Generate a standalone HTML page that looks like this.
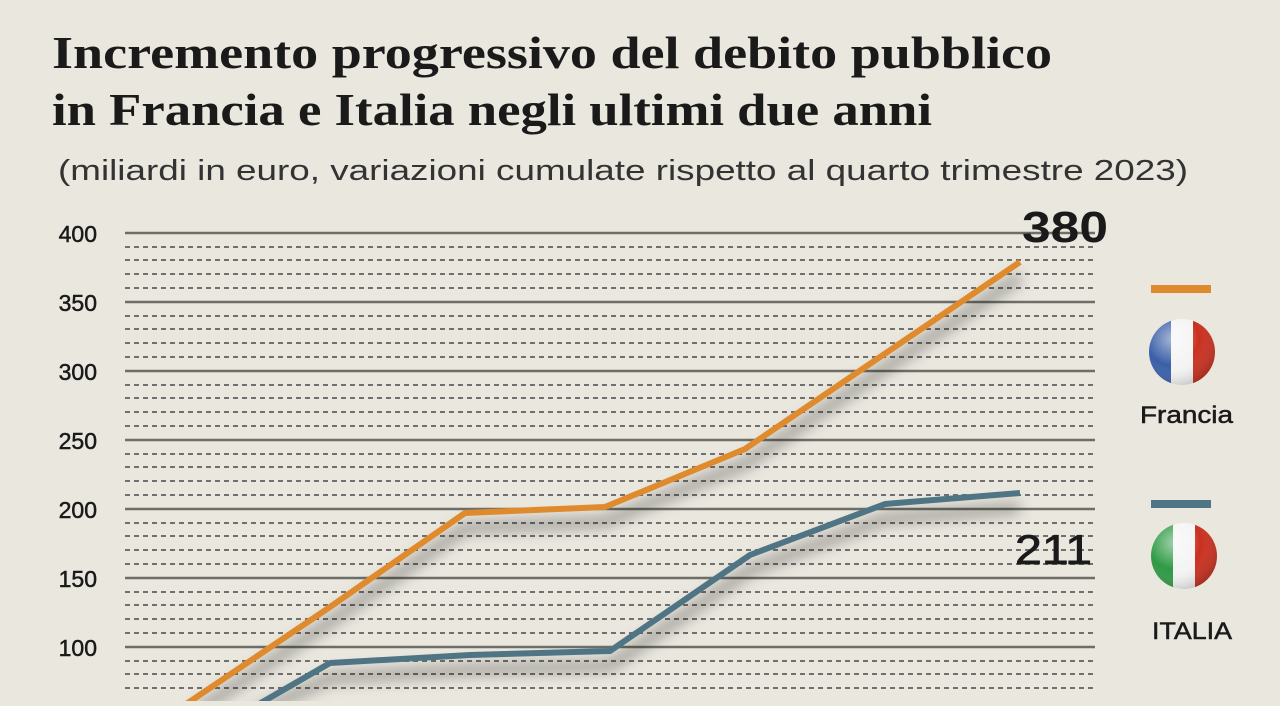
<!DOCTYPE html>
<html><head><meta charset="utf-8"><style>
body{margin:0;width:1280px;height:701px;overflow:hidden;background:#e9e7de;}
</style></head><body>
<svg width="1280" height="701" xmlns="http://www.w3.org/2000/svg">
<defs>
<filter id="sh" x="-10%" y="-10%" width="120%" height="140%"><feGaussianBlur stdDeviation="7"/></filter>
<radialGradient id="gl" cx="0.35" cy="0.3" r="0.8"><stop offset="0" stop-color="#fff" stop-opacity="0.55"/><stop offset="0.5" stop-color="#fff" stop-opacity="0"/><stop offset="1" stop-color="#000" stop-opacity="0.25"/></radialGradient>
<clipPath id="c1"><circle cx="1182" cy="352" r="33"/></clipPath>
<clipPath id="c2"><circle cx="1184" cy="556" r="33"/></clipPath>
</defs>
<rect width="1280" height="701" fill="#e9e7de"/>
<text x="52" y="68" textLength="1000" lengthAdjust="spacingAndGlyphs" font-family="Liberation Serif, serif" font-weight="bold" font-size="46" fill="#1a1a1a">Incremento progressivo del debito pubblico</text>
<text x="52" y="125" textLength="880" lengthAdjust="spacingAndGlyphs" font-family="Liberation Serif, serif" font-weight="bold" font-size="46" fill="#1a1a1a">in Francia e Italia negli ultimi due anni</text>
<text x="58" y="180" textLength="1130" lengthAdjust="spacingAndGlyphs" font-family="Liberation Sans, sans-serif" font-size="29" fill="#333">(miliardi in euro, variazioni  cumulate rispetto al quarto trimestre 2023)</text>
<g font-family="Liberation Sans, sans-serif" font-size="23" fill="#1a1a1a" text-anchor="end" stroke="#1a1a1a" stroke-width="0.5">
<text x="97" y="242">400</text><text x="97" y="311">350</text><text x="97" y="380">300</text><text x="97" y="449">250</text><text x="97" y="518">200</text><text x="97" y="587">150</text><text x="97" y="656">100</text>
</g>
<g id="grid">
<g stroke="#6e6e68" stroke-width="2.5">
<line x1="125" y1="233" x2="1095" y2="233"/><line x1="125" y1="302" x2="1095" y2="302"/><line x1="125" y1="371" x2="1095" y2="371"/><line x1="125" y1="440" x2="1095" y2="440"/><line x1="125" y1="509" x2="1095" y2="509"/><line x1="125" y1="578" x2="1095" y2="578"/><line x1="125" y1="647" x2="1095" y2="647"/>
</g>
<g stroke="#707070" stroke-width="2" stroke-dasharray="5,4">
<line x1="125" y1="247" x2="1095" y2="247"/><line x1="125" y1="260" x2="1095" y2="260"/><line x1="125" y1="274" x2="1095" y2="274"/><line x1="125" y1="288" x2="1095" y2="288"/>
<line x1="125" y1="316" x2="1095" y2="316"/><line x1="125" y1="329" x2="1095" y2="329"/><line x1="125" y1="343" x2="1095" y2="343"/><line x1="125" y1="357" x2="1095" y2="357"/>
<line x1="125" y1="385" x2="1095" y2="385"/><line x1="125" y1="398" x2="1095" y2="398"/><line x1="125" y1="412" x2="1095" y2="412"/><line x1="125" y1="426" x2="1095" y2="426"/>
<line x1="125" y1="454" x2="1095" y2="454"/><line x1="125" y1="467" x2="1095" y2="467"/><line x1="125" y1="481" x2="1095" y2="481"/><line x1="125" y1="495" x2="1095" y2="495"/>
<line x1="125" y1="523" x2="1095" y2="523"/><line x1="125" y1="536" x2="1095" y2="536"/><line x1="125" y1="550" x2="1095" y2="550"/><line x1="125" y1="564" x2="1095" y2="564"/>
<line x1="125" y1="592" x2="1095" y2="592"/><line x1="125" y1="605" x2="1095" y2="605"/><line x1="125" y1="619" x2="1095" y2="619"/><line x1="125" y1="633" x2="1095" y2="633"/>
<line x1="125" y1="661" x2="1095" y2="661"/><line x1="125" y1="674" x2="1095" y2="674"/><line x1="125" y1="688" x2="1095" y2="688"/>
</g>
</g>
<g filter="url(#sh)" fill="none" stroke="#000" stroke-opacity="0.35" stroke-width="10">
<polyline points="190,716 330,622 465,528 605,522 745,464 880,372 1020,277"/>
<polyline points="250,716 330,678 470,670 610,666 750,570 885,519 1020,508"/>
</g>
<polyline points="170,715 330,607 465,513 605,507 745,449 880,357 1020,262" fill="none" stroke="#e08a2e" stroke-width="6" stroke-linejoin="round"/>
<polyline points="240,715 330,663 470,655 610,651 750,555 885,504 1020,493" fill="none" stroke="#4f7584" stroke-width="6" stroke-linejoin="round"/>
<text x="1022" y="242" textLength="86" lengthAdjust="spacingAndGlyphs" font-family="Liberation Sans, sans-serif" font-weight="bold" font-size="44" fill="#1a1a1a">380</text>
<text x="1015" y="564" textLength="77" lengthAdjust="spacingAndGlyphs" font-family="Liberation Sans, sans-serif" font-size="42" fill="#1a1a1a" stroke="#1a1a1a" stroke-width="0.8">211</text>
<rect x="1151" y="285" width="60" height="8" fill="#e08a2e"/>
<rect x="1151" y="500" width="60" height="8" fill="#4f7584"/>
<g clip-path="url(#c1)"><rect x="1149" y="319" width="23" height="66" fill="#3b5fa8"/><rect x="1171" y="319" width="22" height="66" fill="#f4f4f4"/><rect x="1193" y="319" width="23" height="66" fill="#c9301f"/><circle cx="1182" cy="352" r="33" fill="url(#gl)"/></g>
<g clip-path="url(#c2)"><rect x="1151" y="523" width="23" height="66" fill="#2f9a45"/><rect x="1173" y="523" width="22" height="66" fill="#f4f4f4"/><rect x="1195" y="523" width="23" height="66" fill="#c9301f"/><circle cx="1184" cy="556" r="33" fill="url(#gl)"/></g>
<text x="1140" y="423" textLength="93" lengthAdjust="spacingAndGlyphs" font-family="Liberation Sans, sans-serif" font-size="24" fill="#1a1a1a" stroke="#1a1a1a" stroke-width="0.5">Francia</text>
<text x="1152" y="639" textLength="80" lengthAdjust="spacingAndGlyphs" font-family="Liberation Sans, sans-serif" font-size="24" fill="#1a1a1a" stroke="#1a1a1a" stroke-width="0.5">ITALIA</text>
</svg>
</body></html>
